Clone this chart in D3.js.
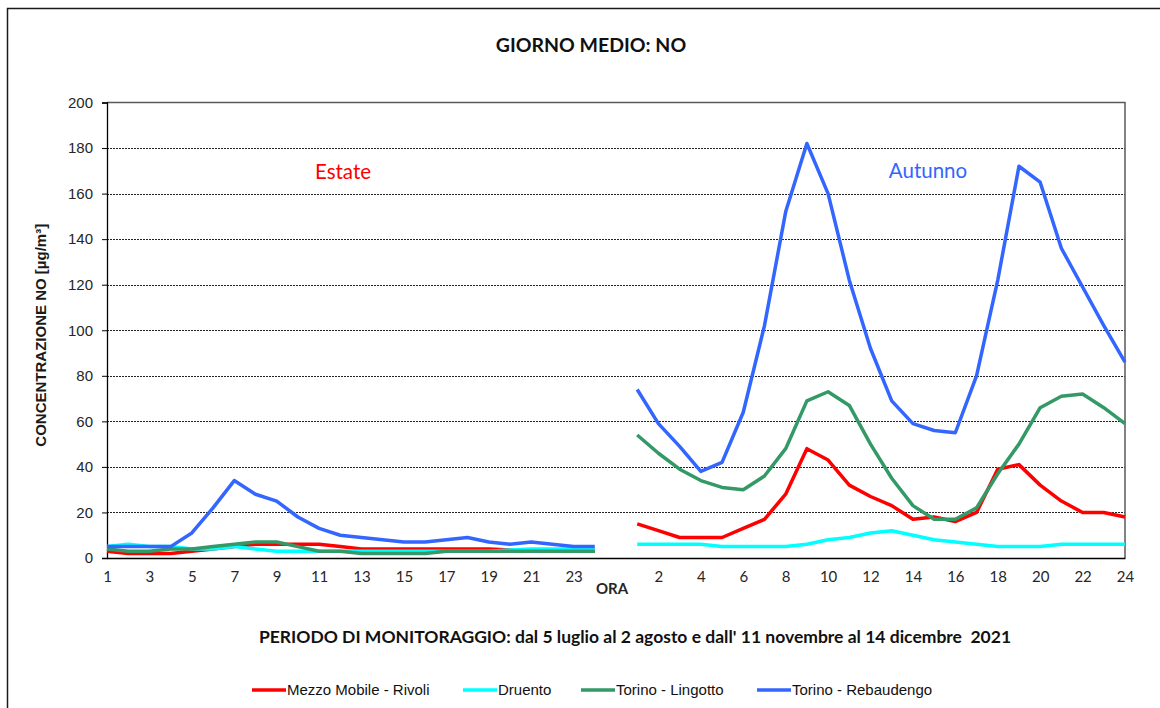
<!DOCTYPE html>
<html>
<head>
<meta charset="utf-8">
<script src="https://cdn.jsdelivr.net/npm/d3@7"></script>
<style>
  html, body { margin: 0; padding: 0; background: #fff; }
  svg { display: block; }
</style>
</head>
<body>
<svg id="chart" width="1160" height="708"></svg>
<script>
// Ore del giorno (estate 1..24, pausa, autunno 1..24)
const hours = d3.range(1, 25);

// Valori medi orari NO [µg/m³] – periodo estivo
const rivoliEstate    = [3, 2, 2, 2, 3, 4, 5, 6, 6, 6, 6, 5, 4, 4, 4, 4, 4, 4, 4, 3.5, 3, 3, 3, 3];
const druentoEstate   = [5, 6, 5, 5, 4, 4, 5, 4, 3, 3, 3, 3, 3, 3, 3, 3, 3, 3, 3, 3.5, 4, 4, 4, 4];
const lingottoEstate  = [4, 3, 3, 4, 4, 5, 6, 7, 7, 5, 3, 3, 2, 2, 2, 2, 3, 3, 3, 3, 3, 3, 3, 3];
const rebaudengoEstate = [5, 5, 5, 5, 11, 22, 34, 28, 25, 18, 13, 10, 9, 8, 7, 7, 8, 9, 7, 6, 7, 6, 5, 5];

// Valori medi orari NO [µg/m³] – periodo autunnale
const rivoliAutunno    = [15, 12, 9, 9, 9, 13, 17, 28, 48, 43, 32, 27, 23, 17, 18, 16, 20, 39, 41, 32, 25, 20, 20, 18];
const druentoAutunno   = [6, 6, 6, 6, 5, 5, 5, 5, 6, 8, 9, 11, 12, 10, 8, 7, 6, 5, 5, 5, 6, 6, 6, 6];
const lingottoAutunno  = [54, 46, 39, 34, 31, 30, 36, 48, 69, 73, 67, 50, 35, 23, 17, 17, 22, 37, 50, 66, 71, 72, 66, 59];
const rebaudengoAutunno = [74, 59, 49, 38, 42, 64, 102, 152, 182, 160, 122, 92, 69, 59, 56, 55, 80, 122, 172, 165, 136, 119, 102, 86];

const yTicks = [0, 20, 40, 60, 80, 100, 120, 140, 160, 180, 200];

const stations = [
  { name: "Mezzo Mobile - Rivoli", color: "#ff0000", estate: rivoliEstate, autunno: rivoliAutunno },
  { name: "Druento", color: "#00ffff", estate: druentoEstate, autunno: druentoAutunno },
  { name: "Torino - Lingotto", color: "#339966", estate: lingottoEstate, autunno: lingottoAutunno },
  { name: "Torino - Rebaudengo", color: "#3366ff", estate: rebaudengoEstate, autunno: rebaudengoAutunno }
];

// Sequenza di 49 categorie: 24 ore estive, una vuota, 24 ore autunnali
const categories = d3.range(49);
const categoryLabel = i => i < 24 ? (i % 2 === 0 ? String(hours[i]) : "")
                         : i === 24 ? ""
                         : ((i - 25) % 2 === 1 ? String(hours[i - 25]) : "");

const svg = d3.select("#chart");
const margin = { left: 107, right: 1125, top: 102.5, bottom: 558 };

const x = d3.scalePoint().domain(categories).range([margin.left, margin.right]);
const y = d3.scaleLinear().domain([0, 200]).range([margin.bottom, margin.top]);

// Cornice esterna
svg.append("rect")
  .attr("x", 7.5).attr("y", 8.5)
  .attr("width", 1170).attr("height", 720)
  .attr("fill", "none").attr("stroke", "#1a1a1a").attr("stroke-width", 1.5);

// Griglia orizzontale tratteggiata
svg.append("g")
  .selectAll("line")
  .data(yTicks.filter(t => t > 0 && t < 200))
  .join("line")
  .attr("x1", margin.left).attr("x2", margin.right)
  .attr("y1", d => Math.round(y(d)) + 0.5).attr("y2", d => Math.round(y(d)) + 0.5)
  .attr("stroke", "#222").attr("stroke-width", 1)
  .attr("stroke-dasharray", "2,1");

// Bordo superiore e destro dell'area del grafico
svg.append("path")
  .attr("d", `M${margin.left},${margin.top}H${margin.right}V${margin.bottom}`)
  .attr("fill", "none").attr("stroke", "#595959").attr("stroke-width", 1.5);

// Asse Y
const yAxis = d3.axisLeft(y).tickValues(yTicks).tickSize(5).tickPadding(9);
const gy = svg.append("g").attr("transform", `translate(${margin.left},0)`).call(yAxis);
gy.select(".domain").attr("stroke", "#000").attr("stroke-width", 1.3);
gy.selectAll(".tick line").attr("stroke", "#000");
gy.selectAll(".tick text")
  .attr("font-family", "'Liberation Sans', Arial, sans-serif")
  .attr("font-size", 15).attr("fill", "#262626");

// Asse X
const xAxis = d3.axisBottom(x).tickFormat(categoryLabel).tickSize(0).tickPadding(13);
const gx = svg.append("g").attr("transform", `translate(0,${margin.bottom})`).call(xAxis);
gx.select(".domain").attr("stroke", "#000").attr("stroke-width", 1.3);
gx.selectAll(".tick text")
  .attr("font-family", "Lato, 'Open Sans', sans-serif")
  .attr("font-size", 15).attr("fill", "#262626");

// Titolo asse X
svg.append("text")
  .attr("x", x(24) - 4).attr("y", 594)
  .attr("text-anchor", "middle")
  .attr("font-family", "Lato, sans-serif").attr("font-weight", "bold")
  .attr("font-size", 15).attr("fill", "#262626")
  .text("ORA");

// Titolo asse Y
svg.append("text")
  .attr("transform", `translate(46,${(margin.top + margin.bottom) / 2 + 5}) rotate(-90)`)
  .attr("text-anchor", "middle")
  .attr("font-family", "'Liberation Sans', Arial, sans-serif").attr("font-weight", "bold")
  .attr("font-size", 15).attr("fill", "#1a1a1a")
  .text("CONCENTRAZIONE NO [µg/m³]");

// Linee delle stazioni (interrotte tra i due periodi)
const line = d3.line()
  .defined(d => d.v != null)
  .x(d => x(d.i))
  .y(d => y(d.v));

stations.forEach(s => {
  const series = categories.map(i => ({
    i,
    v: i < 24 ? s.estate[i] : i === 24 ? null : s.autunno[i - 25]
  }));
  svg.append("path")
    .datum(series)
    .attr("d", line)
    .attr("fill", "none")
    .attr("stroke", s.color)
    .attr("stroke-width", 3.5)
    .attr("stroke-linejoin", "round");
});

// Titolo
svg.append("text")
  .attr("x", 591).attr("y", 52)
  .attr("text-anchor", "middle")
  .attr("font-family", "Lato, sans-serif").attr("font-weight", "bold")
  .attr("font-size", 19.5).attr("fill", "#111")
  .text("GIORNO MEDIO: NO");

// Etichette dei periodi
svg.append("text")
  .attr("x", 343).attr("y", 179)
  .attr("text-anchor", "middle")
  .attr("font-family", "Lato, sans-serif")
  .attr("font-size", 20.5).attr("fill", "#ff0000")
  .text("Estate");
svg.append("text")
  .attr("x", 928).attr("y", 178)
  .attr("text-anchor", "middle")
  .attr("font-family", "Lato, sans-serif")
  .attr("font-size", 20.5).attr("fill", "#3366ff")
  .text("Autunno");

// Periodo di monitoraggio
svg.append("text")
  .attr("x", 635).attr("y", 643)
  .attr("text-anchor", "middle")
  .attr("font-family", "Lato, sans-serif").attr("font-weight", "bold")
  .attr("font-size", 17.5).attr("fill", "#111")
  .attr("xml:space", "preserve")
  .text("PERIODO DI MONITORAGGIO: dal 5 luglio al 2 agosto e dall' 11 novembre al 14 dicembre  2021");

// Legenda
const legendX = [252, 463, 581, 757];
const legend = svg.append("g");
stations.forEach((s, k) => {
  const g = legend.append("g").attr("transform", `translate(${legendX[k]},690)`);
  g.append("line").attr("x1", 0).attr("x2", 34).attr("y1", 0).attr("y2", 0)
    .attr("stroke", s.color).attr("stroke-width", 3.5);
  g.append("text").attr("x", 35).attr("y", 5)
    .attr("font-family", "'Liberation Sans Narrow', 'Arial Narrow', 'Liberation Sans', sans-serif")
    .attr("font-size", 15).attr("fill", "#111")
    .text(s.name);
});
</script>
</body>
</html>
